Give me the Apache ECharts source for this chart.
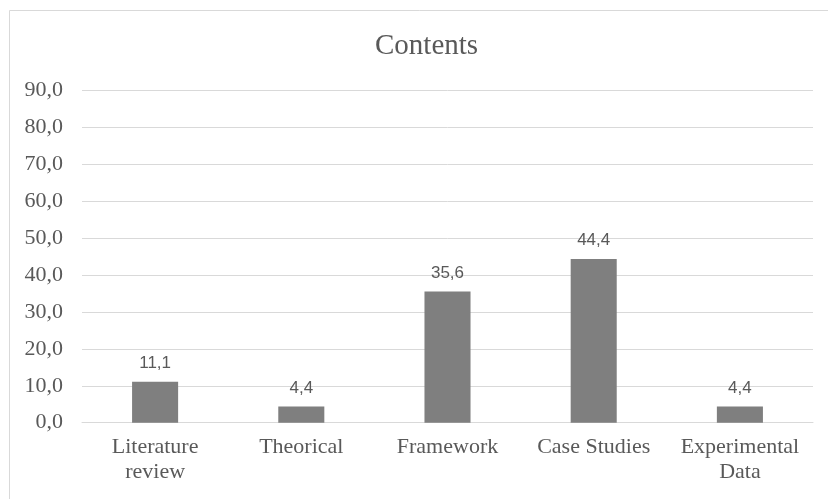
<!DOCTYPE html>
<html>
<head>
<meta charset="utf-8">
<script src="https://cdn.jsdelivr.net/npm/echarts@6/dist/echarts.min.js"></script>
<style>html,body{margin:0;padding:0;background:#fff}#c{width:828px;height:499px}</style>
</head>
<body>
<div id="c"></div>
<script>
var categories = ['Literature\nreview', 'Theorical', 'Framework', 'Case Studies', 'Experimental\nData'];
var values = [11.1, 4.4, 35.6, 44.4, 4.4];
var yTicks = [0, 10, 20, 30, 40, 50, 60, 70, 80, 90];
var chartTitle = 'Contents';

function fmt(v) { return v.toFixed(1).replace('.', ','); }

var chart = echarts.init(document.getElementById('c'));
chart.setOption({
  animation: false,
  backgroundColor: '#fff',
  graphic: [{
    type: 'rect', left: 7, top: 8, z: -1,
    shape: { width: 830, height: 500 },
    style: { fill: 'none', stroke: '#d9d9d9', lineWidth: 1 }
  }],
  title: {
    text: chartTitle, left: 370, top: 27,
    textStyle: { fontFamily: 'Liberation Serif', fontSize: 29, fontWeight: 'normal', color: '#595959' }
  },
  grid: { left: 82, right: 15, top: 90.7, bottom: 76.3, containLabel: false },
  xAxis: {
    type: 'category', data: categories,
    axisLine: { show: true, lineStyle: { color: '#d9d9d9' } },
    axisTick: { show: false },
    axisLabel: { color: '#595959', fontFamily: 'Liberation Serif', fontSize: 22, lineHeight: 25, margin: 12, interval: 0 }
  },
  yAxis: {
    type: 'value', min: yTicks[0], max: yTicks[yTicks.length - 1], interval: 10,
    axisLine: { show: false }, axisTick: { show: false },
    splitLine: { lineStyle: { color: '#d9d9d9' } },
    axisLabel: { color: '#595959', fontFamily: 'Liberation Serif', fontSize: 22, margin: 19, formatter: function (v) { return fmt(v); } }
  },
  series: [{
    type: 'bar', data: values, barWidth: '31.5%',
    itemStyle: { color: '#7f7f7f' },
    label: { show: true, position: 'top', distance: 10, color: '#595959', fontFamily: 'Liberation Sans', fontSize: 17,
      formatter: function (p) { return fmt(p.value); } }
  }]
});
</script>
</body>
</html>
